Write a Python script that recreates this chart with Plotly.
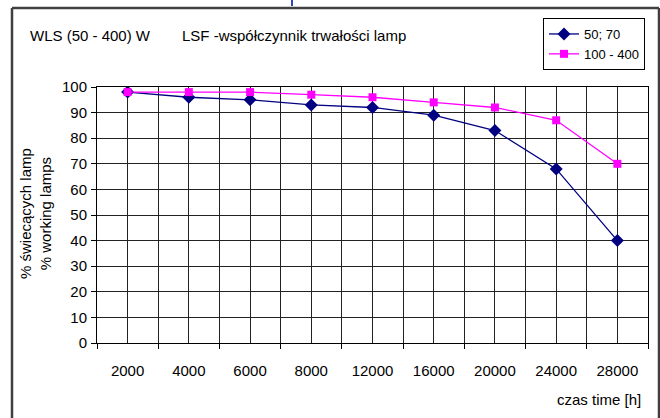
import plotly.graph_objects as go

categories = ["2000", "4000", "6000", "8000", "12000", "16000", "20000", "24000", "28000"]
series_50_70 = [98, 96, 95, 93, 92, 89, 83, 68, 40]
series_100_400 = [98, 98, 98, 97, 96, 94, 92, 87, 70]
y_ticks = [0, 10, 20, 30, 40, 50, 60, 70, 80, 90, 100]

xpos = list(range(len(categories)))

# plot area in pixels
W, H = 660, 418
L, R, T, B = 97, 648, 87, 343
pw, ph = R - L, B - T

def px(x):
    return (x - L) / pw

def py(y):
    return (B - y) / ph

fig = go.Figure()
fig.add_trace(go.Scatter(
    x=xpos, y=series_50_70, name="50; 70", mode="lines+markers",
    line=dict(color="#000080", width=1.3),
    marker=dict(symbol="diamond", size=10, color="#000080"),
))
fig.add_trace(go.Scatter(
    x=xpos, y=series_100_400, name="100 - 400", mode="lines+markers",
    line=dict(color="#FF00FF", width=1.3),
    marker=dict(symbol="square", size=8, color="#FF00FF"),
))

font = "Liberation Sans, Arial, sans-serif"
grid = "#222222"

fig.update_layout(
    width=W, height=H,
    margin=dict(l=L, r=W - R, t=T, b=H - B),
    paper_bgcolor="white", plot_bgcolor="white",
    font=dict(family=font, size=15, color="black"),
    showlegend=True,
    legend=dict(
        x=px(543), y=py(18), xanchor="left", yanchor="top",
        bordercolor="black", borderwidth=1, bgcolor="white",
        font=dict(size=13), tracegroupgap=0, itemwidth=30,
    ),
    xaxis=dict(
        range=[-0.5, len(categories) - 0.5],
        tickmode="array", tickvals=xpos, ticktext=categories,
        ticks="", showgrid=True, gridcolor=grid, gridwidth=1,
        showline=True, linecolor="black", linewidth=1, mirror=True,
        zeroline=False, ticklabelstandoff=14,
        minor=dict(tick0=0.5, dtick=1, ticks="outside", ticklen=5,
                   tickcolor="black", showgrid=True, gridcolor=grid, gridwidth=1),
        tickfont=dict(size=15),
    ),
    yaxis=dict(
        range=[0, 100], tickvals=y_ticks,
        ticks="outside", ticklen=5, tickcolor="black",
        showgrid=True, gridcolor=grid, gridwidth=1,
        showline=True, linecolor="black", linewidth=1, mirror=True,
        zeroline=False, tickfont=dict(size=15), ticklabelstandoff=1,
    ),
)

# outer frame (four sides)
frame = dict(color="#404040", width=2.5)
fx0, fx1, fy0, fy1 = px(12), px(659), py(418), py(8)
for (a, b, c, d) in [(fx0, fy1, fx1, fy1), (fx0, fy0, fx0, fy1), (fx1, fy0, fx1, fy1)]:
    fig.add_shape(type="line", xref="paper", yref="paper",
                  x0=a, y0=b, x1=c, y1=d, line=frame, layer="above")
# small blue mark at top
fig.add_shape(type="line", xref="paper", yref="paper",
              x0=px(292), x1=px(292), y0=py(0), y1=py(6),
              line=dict(color="#3344cc", width=2), layer="above")

fig.add_annotation(text="WLS (50 - 400) W", xref="paper", yref="paper",
                   x=px(28), y=py(35), xanchor="left", yanchor="middle",
                   showarrow=False, font=dict(size=15))
fig.add_annotation(text="LSF -współczynnik trwałości lamp", xref="paper", yref="paper",
                   x=px(180), y=py(35), xanchor="left", yanchor="middle",
                   showarrow=False, font=dict(size=15))
fig.add_annotation(text="czas time [h]", xref="paper", yref="paper",
                   x=px(643), y=py(399), xanchor="right", yanchor="middle",
                   showarrow=False, font=dict(size=15))
fig.add_annotation(text="% świecących lamp<br>% working lamps", xref="paper", yref="paper",
                   x=px(35), y=py(214), xanchor="center", yanchor="middle",
                   textangle=-90, showarrow=False, font=dict(size=15))

fig.write_html("out.html", config={"displayModeBar": False},
               post_script="document.body.style.margin='0';document.body.style.overflow='hidden';")
